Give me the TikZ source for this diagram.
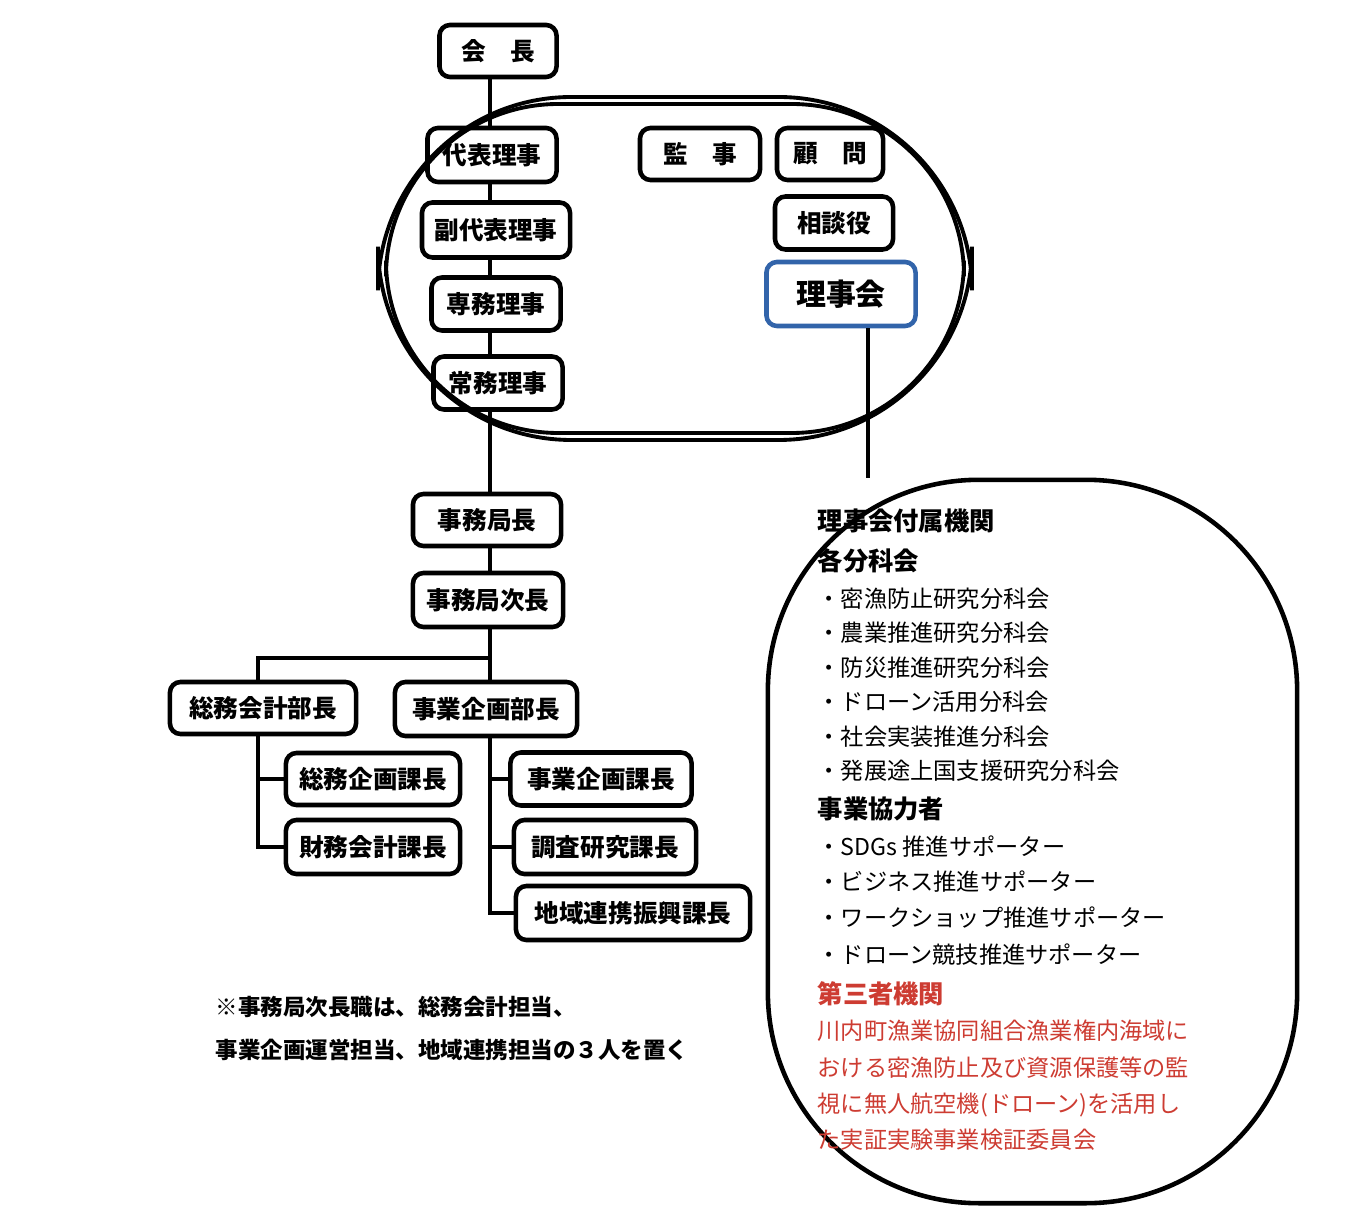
\documentclass[tikz,border=0pt]{standalone}
\usepackage{fontspec}
\setmainfont{Noto Sans CJK JP}
\usetikzlibrary{positioning}
\definecolor{rijiblue}{RGB}{50,100,170}
\definecolor{daisan}{RGB}{205,60,50}
\begin{document}
\begin{tikzpicture}[x=0.01cm, y=-0.01cm,
  post/.style={draw, line width=1.3pt, rounded corners=3pt, font=\fontsize{7}{8}\selectfont\bfseries, inner sep=0pt},
  item/.style={anchor=west, inner sep=0pt, font=\fontsize{6.6}{8}\selectfont},
  head/.style={anchor=west, inner sep=0pt, font=\fontsize{7.2}{8}\selectfont\bfseries},
  link/.style={line width=1.1pt}]
\useasboundingbox (0,0) rectangle (1358,1219);
% frame of the board
\draw[line width=1.1pt, rounded corners=55] (378,97) rectangle (972,440);
\draw[line width=1.1pt, rounded corners=49] (386,104) rectangle (964,433);
% posts
\node[post, minimum width=1.17cm, minimum height=0.52cm] (kaicho) at (498,51) {会\quad 長};
\node[post, minimum width=1.29cm, minimum height=0.54cm] (daihyo) at (492,155) {代表理事};
\node[post, minimum width=1.20cm, minimum height=0.52cm] (kanji) at (700,154) {監\quad 事};
\node[post, minimum width=1.06cm, minimum height=0.52cm] (komon) at (830,154) {顧\quad 問};
\node[post, minimum width=1.18cm, minimum height=0.53cm] (sodan) at (834,223) {相談役};
\node[post, draw=rijiblue, minimum width=1.49cm, minimum height=0.64cm, font=\fontsize{8.5}{10}\selectfont\bfseries] (rijikai) at (841,294) {理事会};
\node[post, minimum width=1.48cm, minimum height=0.55cm] (fukudaihyo) at (496,230) {副代表理事};
\node[post, minimum width=1.29cm, minimum height=0.53cm] (senmu) at (496,304) {専務理事};
\node[post, minimum width=1.29cm, minimum height=0.53cm] (jomu) at (498,383) {常務理事};
\node[post, minimum width=1.48cm, minimum height=0.52cm] (kyokucho) at (487,520) {事務局長};
\node[post, minimum width=1.50cm, minimum height=0.54cm] (jicho) at (488,600) {事務局次長};
\node[post, minimum width=1.86cm, minimum height=0.52cm] (somubu) at (263,708) {総務会計部長};
\node[post, minimum width=1.82cm, minimum height=0.54cm] (jigyobu) at (486,709) {事業企画部長};
\node[post, minimum width=1.74cm, minimum height=0.52cm] (somuka) at (373,779) {総務企画課長};
\node[post, minimum width=1.74cm, minimum height=0.54cm] (zaimuka) at (373,847) {財務会計課長};
\node[post, minimum width=1.81cm, minimum height=0.53cm] (jigyoka) at (601,779) {事業企画課長};
\node[post, minimum width=1.82cm, minimum height=0.54cm] (chosaka) at (605,847) {調査研究課長};
\node[post, minimum width=2.34cm, minimum height=0.54cm] (chiikika) at (633,913) {地域連携振興課長};
% connectors
\draw[link] (kaicho.south -| 490,0) -- (daihyo.north -| 490,0);
\draw[link] (daihyo.south -| 490,0) -- (fukudaihyo.north -| 490,0);
\draw[link] (fukudaihyo.south -| 490,0) -- (senmu.north -| 490,0);
\draw[link] (senmu.south -| 490,0) -- (jomu.north -| 490,0);
\draw[link] (jomu.south -| 490,0) -- (kyokucho.north -| 490,0);
\draw[link] (kyokucho.south -| 490,0) -- (jicho.north -| 490,0);
\coordinate (fork) at (490,658);
\draw[link] (jicho.south -| 490,0) -- (fork) -| (somubu.north -| 258,0);
\draw[link] (fork) -- (jigyobu.north -| 490,0);
\draw[link] (somubu.south -| 258,0) |- (zaimuka.west);
\draw[link] (258,779) -- (somuka.west);
\draw[link] (jigyobu.south -| 490,0) |- (chiikika.west);
\draw[link] (490,779) -- (jigyoka.west);
\draw[link] (490,847) -- (chosaka.west);
% attached bodies
\node[draw, line width=1.3pt, rounded corners=60, minimum width=5.29cm, minimum height=7.23cm, inner sep=0pt] (fuzoku) at (1032.5,841.5) {};
\draw[link] (rijikai.south -| 868,0) -- (fuzoku.north -| 868,0);
\foreach \y/\t in {521/理事会付属機関, 561/各分科会, 809/事業協力者}
  \node[head] at (817,\y) {\t};
\node[head, text=daisan] at (817,994) {第三者機関};
\foreach \y/\t in {599/・密漁防止研究分科会, 633/・農業推進研究分科会, 668/・防災推進研究分科会,
  702/・ドローン活用分科会, 737/・社会実装推進分科会, 771/・発展途上国支援研究分科会,
  847/・SDGs 推進サポーター, 882/・ビジネス推進サポーター,
  918/・ワークショップ推進サポーター, 955/・ドローン競技推進サポーター}
  \node[item] at (817,\y) {\t};
\foreach \y/\t in {1031/川内町漁業協同組合漁業権内海域に, 1068/おける密漁防止及び資源保護等の監,
  1105/視に無人航空機(ドローン)を活用し, 1140/た実証実験事業検証委員会}
  \node[item, text=daisan] at (817,\y) {\t};
% note
\node[anchor=west, inner sep=0pt, font=\fontsize{6.4}{8}\selectfont\bfseries] (note1) at (215,1007) {※事務局次長職は、総務会計担当、};
\node[anchor=west, inner sep=0pt, font=\fontsize{6.4}{8}\selectfont\bfseries] (note2) at (215,1050) {事業企画運営担当、地域連携担当の３人を置く};
\end{tikzpicture}
\end{document}
